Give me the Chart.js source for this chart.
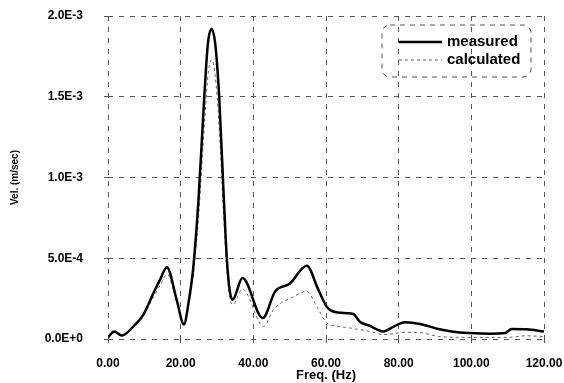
<!DOCTYPE html>
<html>
<head>
<meta charset="utf-8">
<script src="https://cdn.jsdelivr.net/npm/chart.js@4/dist/chart.umd.min.js"></script>
<style>
  html, body { margin: 0; padding: 0; background: #fff; }
  #wrap { width: 564px; height: 383px; }
</style>
</head>
<body>
<div id="wrap"><canvas id="chart" width="564" height="383"></canvas></div>
<script>
// frequency (Hz) and velocity (m/sec)
const measuredHz = [0, 1.7, 3.8, 7, 9.7, 12.5, 14.3, 16.2, 18.9, 20.9, 22.2, 23.5, 24.9, 26.5, 27.5, 28.5, 29.5, 30.6, 31.9, 32.7, 33.5, 34.3, 37, 42.6, 46, 50, 54.7, 57.9, 60.2, 62, 65.7, 67.5, 69.4, 72, 75.8, 78.5, 81.7, 85.9, 90.9, 95, 99.6, 105.1, 109.3, 111.1, 115.2, 120];
const measuredVel = [0.1e-4, 0.47e-4, 0.22e-4, 0.78e-4, 1.5e-4, 2.84e-4, 3.66e-4, 4.45e-4, 2.43e-4, 0.9e-4, 2.3e-4, 4.5e-4, 8.6e-4, 15e-4, 18.3e-4, 19.2e-4, 18.3e-4, 15e-4, 8.6e-4, 5.0e-4, 3.0e-4, 2.43e-4, 3.77e-4, 1.3e-4, 2.94e-4, 3.42e-4, 4.53e-4, 3.05e-4, 2.0e-4, 1.7e-4, 1.6e-4, 1.55e-4, 1.05e-4, 0.82e-4, 0.47e-4, 0.75e-4, 1.03e-4, 0.93e-4, 0.62e-4, 0.45e-4, 0.37e-4, 0.33e-4, 0.37e-4, 0.62e-4, 0.6e-4, 0.47e-4];

const calculatedHz = [0, 1.7, 3.8, 7, 9.7, 12.5, 14.3, 16.3, 18.9, 20.9, 22.2, 23.5, 25, 26.6, 27.6, 28.5, 29.5, 30.5, 31.8, 32.7, 33.5, 34.3, 37, 42.8, 45.5, 47.8, 50, 54.7, 57.5, 60.2, 63, 66.6, 72, 76, 82, 86, 91, 100, 110, 115, 120];
const calculatedVel = [0.05e-4, 0.4e-4, 0.2e-4, 0.7e-4, 1.4e-4, 2.6e-4, 3.3e-4, 4.0e-4, 2.3e-4, 0.85e-4, 2.1e-4, 4.0e-4, 7.8e-4, 13.5e-4, 16.5e-4, 17.3e-4, 16.3e-4, 13.5e-4, 7.8e-4, 4.3e-4, 2.6e-4, 2.12e-4, 3.09e-4, 0.78e-4, 1.8e-4, 2.26e-4, 2.5e-4, 2.94e-4, 2.0e-4, 0.99e-4, 0.8e-4, 0.68e-4, 0.47e-4, 0.27e-4, 0.41e-4, 0.39e-4, 0.16e-4, 0.1e-4, 0.1e-4, 0.2e-4, 0.15e-4];

const seriesNames = ["measured", "calculated"];
const xTicks = [0, 20, 40, 60, 80, 100, 120];
const yTicks = [0, 5e-4, 1e-3, 1.5e-3, 2e-3];

function toPoints(xs, ys) {
  return xs.map((x, i) => ({ x: x, y: ys[i] }));
}

const FONT = "'Liberation Sans', Arial, sans-serif";

// draws the rounded dashed legend box inside the plot, like the original
const boxLegend = {
  id: "boxLegend",
  afterDraw(chart) {
    const ctx = chart.ctx;
    const bx = 382, by = 25, bw = 149, bh = 52, r = 8;
    ctx.save();
    ctx.strokeStyle = "#555";
    ctx.lineWidth = 1;
    ctx.setLineDash([5, 5]);
    ctx.beginPath();
    ctx.roundRect(bx, by, bw, bh, r);
    ctx.stroke();

    chart.data.datasets.forEach((ds, i) => {
      const ly = 42 + i * 18;
      ctx.setLineDash(ds.borderDash || []);
      ctx.lineWidth = ds.borderWidth;
      ctx.strokeStyle = ds.borderColor;
      ctx.beginPath();
      ctx.moveTo(399, ly);
      ctx.lineTo(442, ly);
      ctx.stroke();
      ctx.setLineDash([]);
      ctx.fillStyle = "#000";
      ctx.font = "bold 15px " + FONT;
      ctx.textBaseline = "middle";
      ctx.textAlign = "left";
      ctx.fillText(ds.label, 447, ly);
    });
    ctx.restore();
  }
};

new Chart(document.getElementById("chart").getContext("2d"), {
  type: "line",
  data: {
    datasets: [
      {
        label: seriesNames[0],
        data: toPoints(measuredHz, measuredVel),
        borderColor: "#000",
        borderWidth: 2.5,
        pointRadius: 0,
        cubicInterpolationMode: "monotone",
        fill: false
      },
      {
        label: seriesNames[1],
        data: toPoints(calculatedHz, calculatedVel),
        borderColor: "#666",
        borderWidth: 1,
        borderDash: [3, 3],
        pointRadius: 0,
        cubicInterpolationMode: "monotone",
        fill: false
      }
    ]
  },
  options: {
    responsive: false,
    animation: false,
    layout: { padding: { left: 0, right: 20, top: 16, bottom: 0 } },
    plugins: {
      legend: { display: false },
      tooltip: { enabled: false }
    },
    scales: {
      x: {
        type: "linear",
        min: 0,
        max: 120,
        afterBuildTicks(scale) {
          scale.ticks = xTicks.map((v) => ({ value: v }));
        },
        afterFit(scale) {
          scale.height = 44;
          scale.paddingLeft = 0;
          scale.paddingRight = 0;
        },
        ticks: {
          color: "#000",
          padding: 13,
          maxRotation: 0,
          font: { family: FONT, size: 12, weight: "bold" },
          callback: (v) => Number(v).toFixed(2)
        },
        grid: { color: "#555", lineWidth: 1, tickLength: 4 },
        border: { display: false, dash: [5, 6] },
        title: {
          display: true,
          text: "Freq. (Hz)",
          color: "#000",
          font: { family: FONT, size: 13, weight: "bold" },
          padding: { top: 0, bottom: 0 }
        }
      },
      y: {
        min: 0,
        max: 2e-3,
        afterBuildTicks(scale) {
          scale.ticks = yTicks.map((v) => ({ value: v }));
        },
        afterFit(scale) {
          scale.width = 108;
          scale.paddingTop = 0;
          scale.paddingBottom = 0;
        },
        ticks: {
          color: "#000",
          padding: 21,
          font: { family: FONT, size: 12, weight: "bold" },
          callback: (v) => Number(v).toExponential(1).toUpperCase()
        },
        grid: { color: "#555", lineWidth: 1, tickLength: 4 },
        border: { display: false, dash: [5, 6] },
        title: {
          display: true,
          text: "Vel. (m/sec)",
          color: "#000",
          font: { family: FONT, size: 10, weight: "bold" },
          padding: { top: 9, bottom: 0 }
        }
      }
    }
  },
  plugins: [boxLegend]
});
</script>
</body>
</html>
